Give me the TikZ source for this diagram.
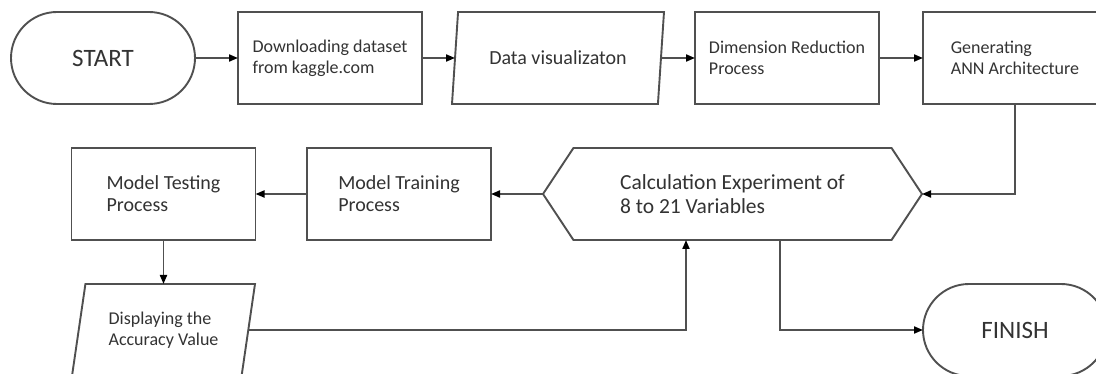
\documentclass[tikz,border=0pt]{standalone}
\usepackage{fontspec}
\setmainfont{Carlito}
\usetikzlibrary{positioning,arrows.meta,shapes,calc}
\definecolor{flowline}{HTML}{505050}
\definecolor{flowtext}{HTML}{333333}

\begin{document}
\begin{tikzpicture}[x=1pt, y=-1pt,
        block/.style={draw=flowline, line width=1.9pt, text=flowtext, align=left,
            minimum width=184pt, minimum height=92pt, inner sep=2pt, outer sep=0pt},
        process/.style={block, rectangle, font=\fontsize{18}{21}\selectfont},
        terminal/.style={block, rectangle, rounded corners=46pt, font=\fontsize{25}{30}\selectfont},
        io/.style={block, trapezium, trapezium left angle=71.4, trapezium right angle=108.6,
            trapezium stretches body, minimum width=212pt},
        prep/.style={block, signal, signal to=west and east, signal pointer angle=113,
            minimum width=379pt, font=\fontsize{21.5}{24}\selectfont},
        flow/.style={draw=flowline, line width=1.9pt, -{Triangle[length=9pt,width=7pt,color=black]}}]
        \useasboundingbox (0,0) rectangle (1096,374);
        \fill[white] (0,0) rectangle (1096,374);
        \clip (0,0) rectangle (1096,374);

        \node[terminal] (start) at (103,58) {START};
        \node[process] (dl) at (330,58) {Downloading dataset\\from kaggle.com};
        \node[io, font=\fontsize{20}{23}\selectfont] (viz) at (558,58) {Data visualizaton};
        \node[process] (dim) at (787,58) {Dimension Reduction\\Process};
        \node[process] (gen) at (1015,58) {Generating\\ANN Architecture};

        \node[prep] (calc) at (732.5,194) {Calculation Experiment of\\8 to 21 Variables};
        \node[process, font=\fontsize{20}{22}\selectfont] (train) at (399,194) {Model Training\\Process};
        \node[process, font=\fontsize{20}{22}\selectfont] (test) at (163.5,194) {Model Testing\\Process};

        \node[io, minimum width=183pt, font=\fontsize{18}{20.5}\selectfont] (disp) at (163.5,330) {Displaying the\\Accuracy Value};
        \node[terminal] (finish) at (1015,330) {FINISH};

        \draw[flow] (start) -- (dl);
        \draw[flow] (dl) -- (viz);
        \draw[flow] (viz) -- (dim);
        \draw[flow] (dim) -- (gen);
        \draw[flow] (gen.south) |- (calc.east);
        \draw[flow] (calc) -- (train);
        \draw[flow] (train) -- (test);
        \draw[flow] (test) -- (disp);
        \draw[flow] (disp.east) -| ([xshift=-46.5pt]calc.south);
        \draw[flow] ([xshift=47.5pt]calc.south) |- (finish.west);
    \end{tikzpicture}
\end{document}
